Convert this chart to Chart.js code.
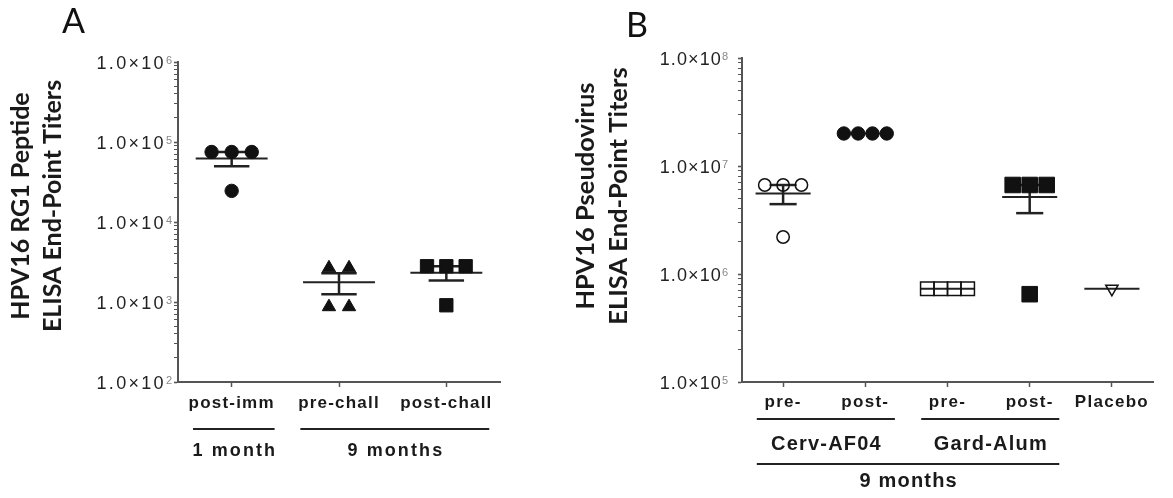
<!DOCTYPE html>
<html>
<head>
<meta charset="utf-8">
<script src="https://cdn.jsdelivr.net/npm/chart.js@4.4.1/dist/chart.umd.min.js"></script>
<style>
html, body { margin: 0; padding: 0; background: #fff; }
#wrap { position: relative; width: 1173px; height: 498px; }
#chartA { position: absolute; left: 0; top: 0; }
#chartB { position: absolute; left: 560px; top: 0; }
</style>
</head>
<body>
<div id="wrap">
  <canvas id="chartA" width="560" height="498"></canvas>
  <canvas id="chartB" width="613" height="498"></canvas>
</div>
<script>
// Panel A - HPV16 RG1 peptide ELISA end-point titers
const categoriesA = ['post-imm', 'pre-chall', 'post-chall'];
const postImm = [75000, 75000, 75000, 24500];
const preChall = [2660, 2660, 870, 870];
const postChall = [2800, 2800, 2800, 910];
const yTicksA = [1e2, 1e3, 1e4, 1e5, 1e6];
const groupLabelsA = ['1 month', '9 months'];
const groupSpansA = [[0, 0], [1, 2]];

// Panel B - HPV16 pseudovirus ELISA end-point titers
const categoriesB = ['pre-', 'post-', 'pre-', 'post-', 'Placebo'];
const cervPre = [6.67e6, 6.67e6, 6.67e6, 2.2e6];
const cervPost = [2.0e7, 2.0e7, 2.0e7, 2.0e7];
const gardPre = [7.3e5, 7.3e5, 7.3e5, 7.3e5];
const gardPost = [6.67e6, 6.67e6, 6.67e6, 6.5e5];
const placebo = [7.3e5];
const yTicksB = [1e5, 1e6, 1e7, 1e8];
const vaccineLabelsB = ['Cerv-AF04', 'Gard-Alum'];
const vaccineSpansB = [[0, 1], [2, 3]];
const timeLabelsB = ['9 months'];
const timeSpansB = [[0, 3]];

const INK = '#111';
const AXIS = '#555';
const SANS = '"Liberation Sans", Arial, sans-serif';
const TITLE_FONT = 'Lato, "Open Sans", sans-serif';

function mean(a) { return a.reduce((s, v) => s + v, 0) / a.length; }
function sem(a) {
  if (a.length < 2) return 0;
  const m = mean(a);
  const sd = Math.sqrt(a.reduce((s, v) => s + (v - m) * (v - m), 0) / (a.length - 1));
  return sd / Math.sqrt(a.length);
}

// spread equal values side by side, like a column scatter plot
function swarm(values, cat, step) {
  const count = {}, used = {};
  values.forEach(v => { count[v] = (count[v] || 0) + 1; });
  return values.map(v => {
    const j = used[v] || 0;
    used[v] = j + 1;
    return { x: cat + (j - (count[v] - 1) / 2) * step, y: v };
  });
}

function isPow10(v) {
  const l = Math.log10(v);
  return Math.abs(l - Math.round(l)) < 1e-6;
}

const panels = {
  chartA: {
    letter: 'A', letterX: 62, letterY: 33,
    title: ['HPV16 RG1 Peptide', 'ELISA End-Point Titers'], titleX: [29, 61], titleY: 206, titleSize: 25,
    yTicks: yTicksA, labelGap: 6, labelSpacing: 2.3, tickSpacing: 1.2,
    groupPad: [0.36, 0.40],
    rows: [{ labels: groupLabelsA, spans: groupSpansA, lineY: 429, textY: 456, size: 18, spacing: 2.1 }]
  },
  chartB: {
    letter: 'B', letterX: 66, letterY: 37,
    title: ['HPV16 Pseudovirus', 'ELISA End-Point Titers'], titleX: [34, 67], titleY: 196, titleSize: 25.5,
    yTicks: yTicksB, labelGap: 14, labelSpacing: 1.1, tickSpacing: 1.3,
    groupPad: [0.32, 0.36],
    rows: [
      { labels: vaccineLabelsB, spans: vaccineSpansB, lineY: 419, textY: 450, size: 20, spacing: 1.2 },
      { labels: timeLabelsB, spans: timeSpansB, lineY: 464, textY: 487, size: 20, spacing: 1.2 }
    ]
  }
};

const decor = {
  id: 'decor',
  beforeDraw(chart) {
    chart.ctx.letterSpacing = panels[chart.canvas.id].tickSpacing + 'px';
  },
  beforeDatasetsDraw(chart) {
    const ctx = chart.ctx, xs = chart.scales.x, ys = chart.scales.y;
    const seg = (x1, y1, x2, y2) => { ctx.beginPath(); ctx.moveTo(x1, y1); ctx.lineTo(x2, y2); ctx.stroke(); };
    ctx.save();
    ctx.strokeStyle = '#222';
    chart.data.datasets.forEach(ds => {
      const m = mean(ds.values), e = sem(ds.values), c = ds.cat;
      const ym = ys.getPixelForValue(m);
      ctx.lineWidth = 2;
      seg(xs.getPixelForValue(c - 0.335), ym, xs.getPixelForValue(c + 0.335), ym);
      if (e > 0) {
        const yl = ys.getPixelForValue(m - e), yh = ys.getPixelForValue(m + e);
        const cx = xs.getPixelForValue(c);
        ctx.lineWidth = 2.5;
        seg(cx, yl, cx, yh);
        seg(xs.getPixelForValue(c - 0.165), yl, xs.getPixelForValue(c + 0.165), yl);
        seg(xs.getPixelForValue(c - 0.165), yh, xs.getPixelForValue(c + 0.165), yh);
      }
    });
    ctx.restore();
  },
  afterDraw(chart) {
    const p = panels[chart.canvas.id];
    const ctx = chart.ctx, xs = chart.scales.x, ys = chart.scales.y;
    ctx.save();

    // y tick labels 1.0x10^n
    const axisX = chart.chartArea.left;
    p.yTicks.forEach(v => {
      const y = ys.getPixelForValue(v);
      const exp = String(Math.round(Math.log10(v)));
      ctx.letterSpacing = '0px';
      ctx.font = '11px ' + SANS;
      const supW = ctx.measureText(exp).width;
      const supX = axisX - p.labelGap - supW;
      ctx.fillStyle = '#888';
      ctx.textAlign = 'left';
      ctx.textBaseline = 'alphabetic';
      ctx.fillText(exp, supX, y + 1.5);
      ctx.letterSpacing = p.labelSpacing + 'px';
      ctx.font = '18px ' + SANS;
      ctx.fillStyle = '#222';
      ctx.textAlign = 'right';
      ctx.fillText('1.0\u00d710', supX, y + 6.5);
    });

    // group rows under the x axis
    ctx.strokeStyle = '#222';
    ctx.lineWidth = 2;
    ctx.fillStyle = '#1a1a1a';
    ctx.textAlign = 'center';
    p.rows.forEach(r => {
      ctx.font = 'bold ' + r.size + 'px ' + SANS;
      ctx.letterSpacing = r.spacing + 'px';
      r.spans.forEach((s, i) => {
        const x1 = xs.getPixelForValue(s[0] - p.groupPad[0]);
        const x2 = xs.getPixelForValue(s[1] + p.groupPad[1]);
        ctx.beginPath(); ctx.moveTo(x1, r.lineY); ctx.lineTo(x2, r.lineY); ctx.stroke();
        ctx.fillText(r.labels[i], (x1 + x2) / 2 + r.spacing / 2, r.textY);
      });
    });

    // rotated axis title
    ctx.letterSpacing = '0px';
    ctx.font = 'bold ' + p.titleSize + 'px ' + TITLE_FONT;
    ctx.fillStyle = '#1a1a1a';
    p.title.forEach((t, i) => {
      ctx.save();
      ctx.translate(p.titleX[i], p.titleY);
      ctx.rotate(-Math.PI / 2);
      ctx.textAlign = 'center';
      ctx.fillText(t, 0, 0);
      ctx.restore();
    });

    // panel letter
    ctx.font = '34px ' + TITLE_FONT;
    ctx.textAlign = 'left';
    ctx.fillStyle = '#111';
    ctx.fillText(p.letter, p.letterX, p.letterY);
    ctx.restore();
  }
};

function pointSet(values, cat, step, style, radius, open, rotation) {
  return {
    values: values,
    cat: cat,
    data: swarm(values, cat, step),
    pointStyle: style,
    pointRadius: radius,
    pointHoverRadius: radius,
    rotation: rotation || 0,
    backgroundColor: open ? 'rgba(0,0,0,0)' : INK,
    borderColor: INK,
    borderWidth: open ? 1.5 : 1
  };
}

function makeChart(id, cats, datasets, yMin, yMax, axisWidth, pad, tickPad) {
  const lo = Math.round(Math.log10(yMin)), hi = Math.round(Math.log10(yMax));
  return new Chart(document.getElementById(id), {
    type: 'scatter',
    data: { datasets: datasets },
    plugins: [decor],
    options: {
      responsive: false,
      animation: false,
      events: [],
      layout: { padding: pad },
      plugins: { legend: { display: false }, tooltip: { enabled: false } },
      scales: {
        x: {
          type: 'linear',
          min: -0.5,
          max: cats.length - 0.5,
          afterBuildTicks: s => { s.ticks = cats.map((c, i) => ({ value: i })); },
          afterFit: s => { s.height = 116; },
          ticks: {
            autoSkip: false,
            maxRotation: 0,
            padding: tickPad,
            color: '#1a1a1a',
            font: { family: SANS, weight: 'bold', size: 17 },
            callback: v => cats[v]
          },
          grid: { drawOnChartArea: false, tickLength: 5, tickColor: AXIS, tickWidth: 1.5 },
          border: { color: AXIS, width: 2 }
        },
        y: {
          type: 'logarithmic',
          min: yMin,
          max: yMax,
          afterBuildTicks: s => {
            const t = [];
            for (let e = lo; e < hi; e++) for (let m = 1; m < 10; m++) t.push({ value: m * Math.pow(10, e) });
            t.push({ value: Math.pow(10, hi) });
            s.ticks = t;
          },
          afterFit: s => { s.width = axisWidth; },
          ticks: { autoSkip: false, padding: 0, callback: () => '' },
          grid: {
            drawOnChartArea: false,
            tickLength: 4,
            tickColor: AXIS,
            tickWidth: c => (c.tick && isPow10(c.tick.value)) ? 1.6 : 1
          },
          border: { color: AXIS, width: 2 }
        }
      }
    }
  });
}

makeChart('chartA', categoriesA, [
  pointSet(postImm, 0, 0.187, 'circle', 6.7, false),
  pointSet(preChall, 1, 0.187, 'triangle', 7.7, false),
  pointSet(postChall, 2, 0.18, 'rect', 9.4, false)
], 1e2, 1e6, 178, { top: 62, right: 60, left: 0, bottom: 0 }, 6);

makeChart('chartB', categoriesB, [
  pointSet(cervPre, 0, 0.223, 'circle', 6.2, true),
  pointSet(cervPost, 1, 0.174, 'circle', 6.7, false),
  pointSet(gardPre, 2, 0.164, 'rect', 9.5, true),
  pointSet(gardPost, 3, 0.207, 'rect', 11, false),
  pointSet(placebo, 4, 0.2, 'triangle', 7.1, true, 180)
], 1e5, 1e8, 182, { top: 58, right: 20, left: 0, bottom: 0 }, 5);
</script>
</body>
</html>
